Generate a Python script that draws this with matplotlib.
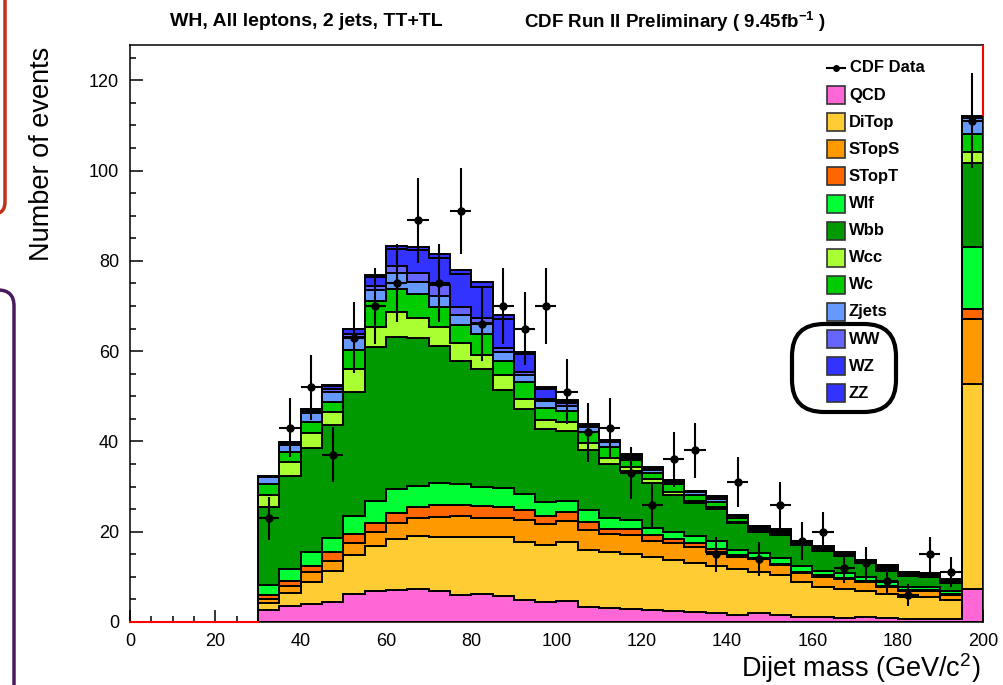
import numpy as np
import matplotlib
matplotlib.use("Agg")
import matplotlib.pyplot as plt
from matplotlib.patches import FancyBboxPatch, Rectangle
from matplotlib.lines import Line2D
from matplotlib.transforms import IdentityTransform
from matplotlib.ticker import MultipleLocator

plt.rcParams['font.family'] = ['Liberation Sans', 'DejaVu Sans']
plt.rcParams['mathtext.fontset'] = 'custom'
plt.rcParams['mathtext.rm'] = 'Liberation Sans'
plt.rcParams['mathtext.bf'] = 'Liberation Sans:bold'

# dijet mass bins: 30..195 in 5 GeV steps, last bin 195-200 holds the overflow
edges = np.arange(30, 201, 5)

data = [23, 43, 52, 37, 63, 70, 75, 89, 75, 91, 66, 70, 65, 70, 51, 42, 43,
        33, 26, 36, 38, 15, 31, 14, 26, 18, 20, 12, 13, 9, 6, 15, 11, 111]

qcd = [2.7, 3.6, 3.9, 4.5, 6.1, 6.9, 7.1, 7.2, 6.9, 6.0, 6.2, 5.8, 4.9, 4.4,
       4.7, 3.3, 3.0, 2.8, 2.7, 2.4, 2.3, 2.1, 1.6, 1.9, 1.6, 1.2, 1.0, 0.9,
       1.0, 0.8, 0.6, 0.7, 0.6, 7.3]
ditop = [1.6, 2.9, 5.0, 6.8, 8.7, 9.9, 11.2, 11.9, 12.0, 12.8, 12.7, 13.0,
         12.9, 12.6, 13.1, 12.6, 12.4, 12.3, 11.8, 11.3, 10.7, 10.2, 10.1,
         9.1, 8.8, 7.7, 6.8, 6.3, 5.9, 5.5, 5.0, 4.9, 4.3, 45.5]
stops = [0.7, 1.5, 2.1, 2.3, 2.8, 3.1, 3.6, 3.9, 4.4, 4.7, 4.1, 4.2, 4.9, 4.6,
         4.6, 4.5, 4.2, 4.2, 3.5, 3.7, 3.7, 3.1, 2.8, 3.0, 2.2, 2.0, 2.2, 2.3,
         1.9, 1.5, 1.3, 1.3, 1.1, 14.4]
stopt = [0.9, 1.0, 1.3, 1.8, 1.9, 2.1, 2.3, 2.5, 2.6, 2.4, 2.7, 2.4, 2.1, 1.9,
         1.9, 1.8, 1.0, 1.2, 1.3, 0.9, 0.9, 0.8, 0.3, 0.1, 0.2, 0.2, 0.3, 0.2,
         0.2, 0.2, 0.2, 0.2, 0.2, 2.1]
wlf = [2.3, 2.7, 3.1, 3.3, 4.0, 4.8, 5.2, 4.6, 4.8, 4.6, 4.3, 4.2, 3.5, 3.1,
       2.6, 2.5, 2.4, 2.1, 1.6, 1.7, 1.4, 1.7, 1.1, 1.1, 1.3, 1.2, 1.0, 1.1,
       0.9, 0.9, 0.7, 0.7, 0.7, 13.8]
wbb = [17.3, 20.7, 23.1, 24.9, 27.5, 34.0, 33.8, 32.9, 30.5, 27.2, 26.0, 21.8,
       18.8, 16.1, 15.5, 13.5, 12.1, 10.9, 9.8, 8.1, 7.3, 7.1, 6.0, 4.8, 5.2,
       4.8, 4.5, 3.9, 3.2, 2.5, 2.4, 2.1, 1.7, 18.6]
wcc = [2.6, 3.1, 3.3, 3.0, 5.0, 4.5, 5.5, 4.4, 4.2, 4.0, 3.1, 3.2, 2.4, 2.0,
       2.0, 1.5, 1.3, 0.9, 0.9, 0.8, 0.6, 0.5, 0.3, 0.4, 0.3, 0.2, 0.3, 0.2,
       0.2, 0.4, 0.3, 0.3, 0.2, 2.3]
wc = [2.5, 2.1, 2.6, 2.2, 4.2, 5.8, 5.0, 5.2, 4.3, 4.1, 4.7, 3.3, 3.6, 2.8,
      2.4, 2.3, 2.3, 1.5, 1.3, 1.7, 1.2, 1.1, 0.8, 0.5, 0.4, 0.2, 0.2, 0.2,
      0.2, 0.3, 0.2, 0.2, 0.2, 4.0]
zjets = [1.6, 1.7, 2.0, 2.2, 3.0, 2.4, 3.5, 2.8, 2.6, 2.3, 2.5, 1.9, 1.6, 1.4,
         1.0, 1.1, 1.1, 0.5, 0.8, 0.5, 0.6, 0.6, 0.5, 0.2, 0.2, 0.2, 0.2, 0.1,
         0.1, 0.2, 0.2, 0.2, 0.2, 3.7]
ww = [0.1, 0.2, 0.3, 0.5, 0.7, 0.9, 1.6, 2.0, 2.3, 1.6, 1.0, 0.8, 0.6, 0.5,
      0.6, 0.3, 0.2, 0.3, 0.3, 0.2, 0.2, 0.3, 0.1, 0.1, 0.1, 0.1, 0.1, 0.1,
      0.05, 0.15, 0.1, 0.1, 0.1, 0.2]
wz = [0.05, 0.3, 0.4, 0.7, 0.9, 2.1, 3.9, 4.9, 6.1, 7.4, 7.0, 6.6, 4.0, 2.2,
      0.6, 0.3, 0.2, 0.3, 0.2, 0.1, 0.1, 0.2, 0.1, 0.05, 0.1, 0.05, 0.05,
      0.05, 0.05, 0.1, 0.05, 0.05, 0.05, 0.1]
zz = [0.05, 0.1, 0.1, 0.2, 0.2, 0.4, 0.6, 0.7, 0.8, 0.9, 0.9, 0.8, 0.6, 0.4,
      0.2, 0.1, 0.1, 0.1, 0.1, 0.1, 0.1, 0.1, 0.1, 0.1, 0.1, 0.1, 0.1, 0.1,
      0.1, 0.1, 0.1, 0.1, 0.1, 0.1]

names = ['QCD', 'DiTop', 'STopS', 'STopT', 'Wlf', 'Wbb', 'Wcc', 'Wc',
         'Zjets', 'WW', 'WZ', 'ZZ']
samples = [qcd, ditop, stops, stopt, wlf, wbb, wcc, wc, zjets, ww, wz, zz]
colors = ['#FF66D6', '#FFCC33', '#FF9900', '#FF6600', '#00FF33', '#009900',
          '#AAFF33', '#00CC00', '#6699FF', '#6666FF', '#3333FF', '#3333FF']

W, H = 1004, 685
fig = plt.figure(figsize=(W / 100, H / 100), dpi=100)
ax = fig.add_axes([130 / W, 1 - 622 / H, 853 / W, 577 / H])

# stacked backgrounds
bottom = np.zeros(len(data))
for vals, col in zip(samples, colors):
    top = bottom + np.array(vals)
    ax.stairs(top, edges, baseline=bottom, fill=True, facecolor=col,
              edgecolor='black', linewidth=1.4, zorder=2)
    bottom = top

# signal outline (empty below 30 GeV, off scale in the last bin)
ax.plot([0, 30], [0, 0], color='red', lw=1.5, zorder=3, clip_on=False)
ax.vlines(200, bottom[-1], 127.8, color='red', lw=1.5, zorder=3,
          clip_on=False)

centers = 0.5 * (edges[:-1] + edges[1:])
d = np.array(data, dtype=float)
ax.errorbar(centers, d, yerr=np.sqrt(d), xerr=2.5, fmt='o', color='black',
            ms=5, elinewidth=1.5, capsize=0, zorder=4)

ax.set_xlim(0, 200)
ax.set_ylim(0, 127.8)
ax.set_xticks(np.arange(0, 201, 20))
ax.set_yticks(np.arange(0, 121, 20))
ax.xaxis.set_minor_locator(MultipleLocator(5))
ax.yaxis.set_minor_locator(MultipleLocator(5))
ax.tick_params(which='both', direction='in', top=False, right=False,
               labelsize=13, width=1.1)
ax.tick_params(which='major', length=9, pad=8)
ax.tick_params(which='minor', length=4.5)
for s in ax.spines.values():
    s.set_linewidth(1.1)

fig.text(42 / W, 1 - 154 / H, 'Number of events', rotation=90,
         ha='center', va='center', fontsize=19.5)
fig.text(980 / W, 1 - 668 / H, r'Dijet mass (GeV/c$^{2}$)', ha='right',
         va='center', fontsize=19.5)

fig.text(306 / W, 1 - 22 / H, 'WH, All leptons, 2 jets, TT+TL',
         ha='center', va='center', fontsize=14, fontweight='bold')
fig.text(524 / W, 1 - 22 / H,
         r'CDF Run II Preliminary ( 9.45fb$^{\mathbf{-1}}$ )',
         ha='left', va='center', fontsize=13.5, fontweight='bold')

# legend
row0, step = 68, 27.1
fig.add_artist(Line2D([827 / W, 845 / W], [1 - row0 / H] * 2, color='black',
                      lw=1.5, transform=fig.transFigure))
fig.add_artist(Line2D([836 / W], [1 - row0 / H], color='black', marker='o',
                      ms=4, transform=fig.transFigure))
fig.text(850 / W, 1 - row0 / H, 'CDF Data', ha='left', va='center',
         fontsize=12, fontweight='bold')
for i, (name, col) in enumerate(zip(names, colors)):
    yc = row0 + step * (i + 1)
    fig.add_artist(Rectangle((827, H - yc - 9), 18, 18, facecolor=col,
                             edgecolor='#333333', lw=1.2,
                             transform=IdentityTransform()))
    fig.text(849 / W, 1 - yc / H, name, ha='left', va='center', fontsize=12,
             fontweight='bold')

# highlight ring around the diboson entries
fig.add_artist(FancyBboxPatch((792, H - 412), 104, 88,
                              boxstyle='round,pad=0,rounding_size=32',
                              facecolor='none', edgecolor='black', lw=3,
                              transform=IdentityTransform(), zorder=10))

# slide frames on the left edge
fig.add_artist(FancyBboxPatch((-100, H - 214), 105, 400,
                              boxstyle='round,pad=0,rounding_size=12',
                              facecolor='none', edgecolor='#C0301A', lw=2.5,
                              transform=IdentityTransform()))
fig.add_artist(FancyBboxPatch((-100, -100), 114, H - 290 + 100,
                              boxstyle='round,pad=0,rounding_size=16',
                              facecolor='none', edgecolor='#4A1A5C', lw=2.5,
                              transform=IdentityTransform()))

fig.savefig('out.png', dpi=100)
